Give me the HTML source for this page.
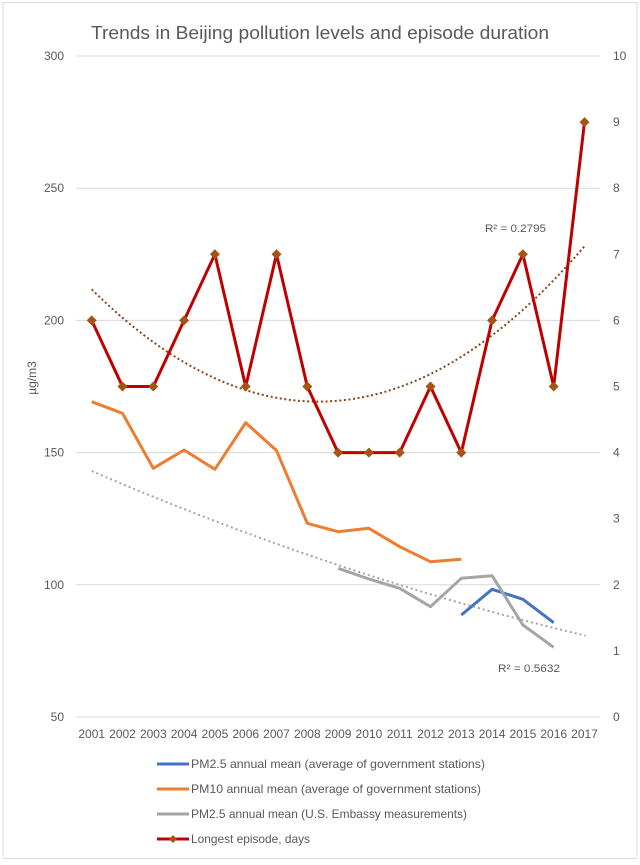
<!DOCTYPE html>
<html>
<head>
<meta charset="utf-8">
<style>
  html,body{margin:0;padding:0;background:#fff;}
  svg{display:block;}
  text{font-family:"Liberation Sans",sans-serif;fill:#595959;}
</style>
</head>
<body>
<svg width="640" height="865" viewBox="0 0 640 865" xmlns="http://www.w3.org/2000/svg">
  <rect x="0" y="0" width="640" height="865" fill="#fff"/>
  <!-- chart border -->
  <rect x="3" y="2.5" width="634" height="856" fill="none" stroke="#D9D9D9" stroke-width="1"/>

  <!-- title -->
  <text x="320" y="39" font-size="18" text-anchor="middle" textLength="458" lengthAdjust="spacingAndGlyphs">Trends in Beijing pollution levels and episode duration</text>

  <!-- gridlines -->
  <g stroke="#D9D9D9" stroke-width="1">
    <line x1="76" y1="56" x2="600" y2="56"/>
    <line x1="76" y1="188.2" x2="600" y2="188.2"/>
    <line x1="76" y1="320.4" x2="600" y2="320.4"/>
    <line x1="76" y1="452.6" x2="600" y2="452.6"/>
    <line x1="76" y1="584.8" x2="600" y2="584.8"/>
    <line x1="76" y1="717" x2="600" y2="717"/>
  </g>

  <!-- left axis labels -->
  <g font-size="12" text-anchor="end">
    <text x="64" y="60">300</text>
    <text x="64" y="192.2">250</text>
    <text x="64" y="324.4">200</text>
    <text x="64" y="456.6">150</text>
    <text x="64" y="588.8">100</text>
    <text x="64" y="721">50</text>
  </g>
  <!-- right axis labels -->
  <g font-size="12" text-anchor="start">
    <text x="613" y="60">10</text>
    <text x="613" y="126.1">9</text>
    <text x="613" y="192.2">8</text>
    <text x="613" y="258.3">7</text>
    <text x="613" y="324.4">6</text>
    <text x="613" y="390.5">5</text>
    <text x="613" y="456.6">4</text>
    <text x="613" y="522.7">3</text>
    <text x="613" y="588.8">2</text>
    <text x="613" y="654.9">1</text>
    <text x="613" y="721">0</text>
  </g>

  <!-- y axis title -->
  <text x="0" y="0" font-size="12" text-anchor="middle" transform="translate(36,378) rotate(-90)">µg/m3</text>

  <!-- x axis labels -->
  <g font-size="12" text-anchor="middle">
    <text x="91.7" y="738">2001</text>
    <text x="122.5" y="738">2002</text>
    <text x="153.3" y="738">2003</text>
    <text x="184.1" y="738">2004</text>
    <text x="214.9" y="738">2005</text>
    <text x="245.7" y="738">2006</text>
    <text x="276.5" y="738">2007</text>
    <text x="307.3" y="738">2008</text>
    <text x="338.1" y="738">2009</text>
    <text x="368.9" y="738">2010</text>
    <text x="399.7" y="738">2011</text>
    <text x="430.5" y="738">2012</text>
    <text x="461.3" y="738">2013</text>
    <text x="492.1" y="738">2014</text>
    <text x="522.9" y="738">2015</text>
    <text x="553.7" y="738">2016</text>
    <text x="584.5" y="738">2017</text>
  </g>

  <!-- blue PM2.5 gov -->
  <polyline fill="none" stroke="#4472C4" stroke-width="3" stroke-linejoin="round"
    points="461.3,615 492.1,589.3 522.9,599.3 553.7,622.7"/>
  <!-- orange PM10 -->
  <polyline fill="none" stroke="#ED7D31" stroke-width="3" stroke-linejoin="round"
    points="91.7,401.7 122.5,413.3 153.3,468.3 184.1,450 214.9,469.3 245.7,422.7 276.5,450.5 307.3,523.3 338.1,531.7 368.9,528.3 399.7,546.7 430.5,561.7 461.3,559.3"/>
  <!-- gray PM2.5 embassy -->
  <polyline fill="none" stroke="#A5A5A5" stroke-width="3" stroke-linejoin="round"
    points="338.1,568.3 368.9,579 399.7,588.3 430.5,606.7 461.3,578.3 492.1,575.7 522.9,625 553.7,647.3"/>

  <!-- gray dotted trendline -->
  <path d="M91.7,471 Q338.7,577.2 585.7,635.7" fill="none" stroke="#A5A5A5" stroke-width="2" stroke-dasharray="2 3"/>
  <!-- brown dotted poly trendline -->
  <path d="M91.7,289.3 Q338.35,533.9 585,245.7" fill="none" stroke="#8B4513" stroke-width="2" stroke-dasharray="2 2.6"/>

  <!-- red longest episode -->
  <polyline fill="none" stroke="#C00000" stroke-width="3" stroke-linejoin="round"
    points="91.7,320.4 122.5,386.5 153.3,386.5 184.1,320.4 214.9,254.3 245.7,386.5 276.5,254.3 307.3,386.5 338.1,452.6 368.9,452.6 399.7,452.6 430.5,386.5 461.3,452.6 492.1,320.4 522.9,254.3 553.7,386.5 584.5,122.1"/>
  <g fill="#A65314">
    <path d="M91.7,315.4 l5,5 l-5,5 l-5,-5z"/>
    <path d="M122.5,381.5 l5,5 l-5,5 l-5,-5z"/>
    <path d="M153.3,381.5 l5,5 l-5,5 l-5,-5z"/>
    <path d="M184.1,315.4 l5,5 l-5,5 l-5,-5z"/>
    <path d="M214.9,249.3 l5,5 l-5,5 l-5,-5z"/>
    <path d="M245.7,381.5 l5,5 l-5,5 l-5,-5z"/>
    <path d="M276.5,249.3 l5,5 l-5,5 l-5,-5z"/>
    <path d="M307.3,381.5 l5,5 l-5,5 l-5,-5z"/>
    <path d="M338.1,447.6 l5,5 l-5,5 l-5,-5z"/>
    <path d="M368.9,447.6 l5,5 l-5,5 l-5,-5z"/>
    <path d="M399.7,447.6 l5,5 l-5,5 l-5,-5z"/>
    <path d="M430.5,381.5 l5,5 l-5,5 l-5,-5z"/>
    <path d="M461.3,447.6 l5,5 l-5,5 l-5,-5z"/>
    <path d="M492.1,315.4 l5,5 l-5,5 l-5,-5z"/>
    <path d="M522.9,249.3 l5,5 l-5,5 l-5,-5z"/>
    <path d="M553.7,381.5 l5,5 l-5,5 l-5,-5z"/>
    <path d="M584.5,117.1 l5,5 l-5,5 l-5,-5z"/>
  </g>

  <!-- R² labels -->
  <text x="485" y="232" font-size="11" textLength="61" lengthAdjust="spacingAndGlyphs">R² = 0.2795</text>
  <text x="498" y="672" font-size="11" textLength="62" lengthAdjust="spacingAndGlyphs">R² = 0.5632</text>

  <!-- legend -->
  <line x1="157" y1="764" x2="189" y2="764" stroke="#4472C4" stroke-width="3"/>
  <text x="191" y="768" font-size="12" textLength="294" lengthAdjust="spacingAndGlyphs">PM2.5 annual mean (average of government stations)</text>
  <line x1="157" y1="789" x2="189" y2="789" stroke="#ED7D31" stroke-width="3"/>
  <text x="191" y="793" font-size="12" textLength="290" lengthAdjust="spacingAndGlyphs">PM10 annual mean (average of government stations)</text>
  <line x1="157" y1="814" x2="189" y2="814" stroke="#A5A5A5" stroke-width="3"/>
  <text x="191" y="818" font-size="12" textLength="276" lengthAdjust="spacingAndGlyphs">PM2.5 annual mean (U.S. Embassy measurements)</text>
  <line x1="157" y1="839" x2="189" y2="839" stroke="#C00000" stroke-width="3"/>
  <path d="M173,835 l4,4 l-4,4 l-4,-4z" fill="#A65314"/>
  <text x="191" y="843" font-size="12" textLength="119" lengthAdjust="spacingAndGlyphs">Longest episode, days</text>
</svg>
</body>
</html>
